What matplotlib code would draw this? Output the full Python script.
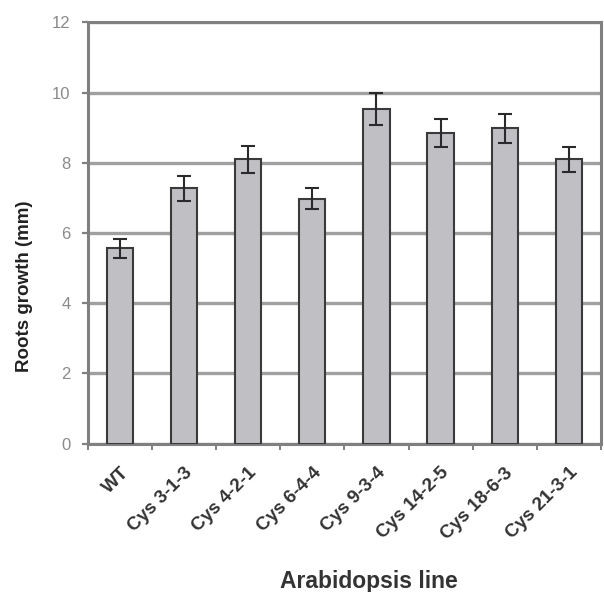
import matplotlib
matplotlib.use("Agg")
import matplotlib.pyplot as plt
import numpy as np

plt.rcParams['font.family'] = ['Liberation Sans', 'DejaVu Sans']

lines = ['WT', 'Cys 3-1-3', 'Cys 4-2-1', 'Cys 6-4-4', 'Cys 9-3-4',
         'Cys 14-2-5', 'Cys 18-6-3', 'Cys 21-3-1']
growth = [5.56, 7.27, 8.10, 6.97, 9.53, 8.84, 8.98, 8.10]
err = [0.28, 0.36, 0.38, 0.30, 0.45, 0.40, 0.41, 0.36]

fig = plt.figure(figsize=(6.04, 5.92), dpi=100)
ax = fig.add_axes([0.1457, 0.2508, 0.849, 0.7115])

x = np.arange(len(lines))
ax.bar(x, growth, width=0.41, color='#c0c0c4', edgecolor='#3a3a3a', lw=1.5, zorder=3,
       yerr=err, error_kw=dict(ecolor='#2a2a2a', elinewidth=1.5, capsize=5, capthick=1.5))

ax.set_xlim(-0.5, len(lines) - 0.5)
ax.set_ylim(0, 12)
ax.set_yticks(np.arange(0, 13, 2))
ax.yaxis.grid(True, color='#a0a0a0', lw=2.4, zorder=0)
ax.set_axisbelow(True)

ax.set_xticks(x)
ax.set_xticklabels(lines, rotation=45, ha='right', rotation_mode='anchor',
                   fontsize=13.5, fontweight='bold', color='#333333')
ax.set_xticks(np.arange(-0.5, len(lines), 1), minor=True)
ax.tick_params(axis='x', which='major', length=0, pad=15)
ax.tick_params(axis='x', which='minor', length=4, color='#808080', width=1.4)
ax.tick_params(axis='y', length=4.5, color='#808080', width=1.6, labelsize=12,
               labelcolor='#8a8a8a', pad=8)

for s in ax.spines.values():
    s.set_color('#808080')
    s.set_linewidth(2.2)

ax.set_ylabel('Roots growth (mm)', fontsize=13.5, fontweight='bold', color='#222222')
ax.yaxis.set_label_coords(-0.107, 0.374)
ax.set_xlabel('Arabidopsis line', fontsize=16.5, fontweight='bold', color='#333333')
ax.xaxis.set_label_coords(0.548, -0.30)

fig.savefig('out.png', dpi=100)
